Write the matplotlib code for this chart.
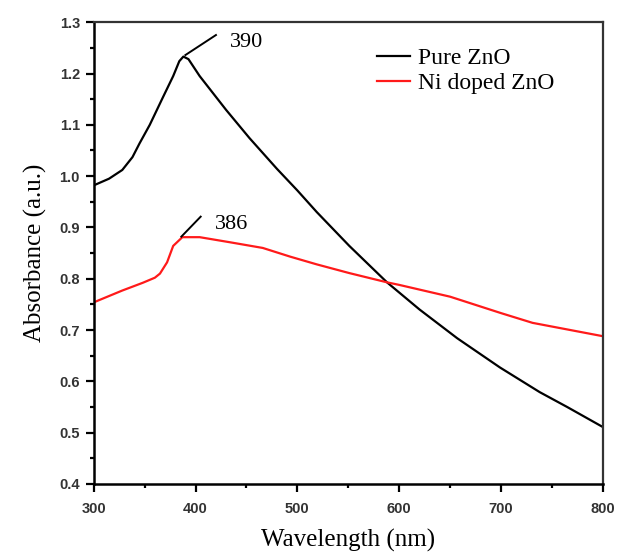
import matplotlib
matplotlib.use('Agg')
import matplotlib.pyplot as plt
from matplotlib.ticker import MultipleLocator

# wavelength (nm) / absorbance (a.u.)
pure_wl = [300, 315, 328, 338, 345, 355, 368, 378, 384, 388, 393, 404, 430, 453,
           480, 500, 519, 551, 588, 620, 657, 699, 738, 765, 800]
pure_abs = [0.982, 0.995, 1.012, 1.037, 1.064, 1.100, 1.154, 1.195, 1.224, 1.233,
            1.228, 1.195, 1.129, 1.074, 1.014, 0.972, 0.930, 0.864, 0.793, 0.740,
            0.684, 0.627, 0.579, 0.550, 0.511]

ni_wl = [300, 328, 348, 360, 365, 372, 378, 387, 404, 434, 466, 493, 519, 551,
         588, 600, 650, 700, 731, 800]
ni_abs = [0.754, 0.777, 0.792, 0.802, 0.810, 0.832, 0.864, 0.881, 0.881, 0.871,
          0.860, 0.843, 0.828, 0.811, 0.793, 0.788, 0.765, 0.733, 0.714, 0.688]

peaks = [(390, 1.236, '390', 420, 1.275), (386, 0.882, '386', 405, 0.921)]

serif = ['Liberation Serif', 'DejaVu Serif']

fig = plt.figure(figsize=(6.17, 5.55), dpi=100)
ax = fig.add_axes([0.152, 0.128, 0.825, 0.832])

ax.plot(pure_wl, pure_abs, color='black', lw=1.6, label='Pure ZnO')
ax.plot(ni_wl, ni_abs, color='#ff1a1a', lw=1.6, label='Ni doped ZnO')

for x0, y0, txt, x1, y1 in peaks:
    ax.plot([x0, x1], [y0, y1], color='black', lw=1.4)
    ax.text(x1 + 14, y1 - 0.015, txt, family=serif, fontsize=16, va='center', ha='left')

ax.set_xlim(300, 800)
ax.set_ylim(0.4, 1.3)
ax.xaxis.set_major_locator(MultipleLocator(100))
ax.xaxis.set_minor_locator(MultipleLocator(50))
ax.yaxis.set_major_locator(MultipleLocator(0.1))
ax.yaxis.set_minor_locator(MultipleLocator(0.05))

ax.tick_params(which='both', direction='out', top=False, right=False, width=1.6)
ax.tick_params(which='major', length=6)
ax.tick_params(which='minor', length=3)
ax.tick_params(axis='x', pad=7)
ax.tick_params(axis='y', pad=4)
for lbl in ax.get_xticklabels() + ax.get_yticklabels():
    lbl.set_fontfamily('Liberation Sans')
    lbl.set_fontweight('bold')
    lbl.set_fontsize(10.5)
    lbl.set_color('#333333')

for side in ['left', 'bottom']:
    ax.spines[side].set_linewidth(1.8)
for side in ['top', 'right']:
    ax.spines[side].set_linewidth(1.6)
    ax.spines[side].set_color('#333333')

ax.set_xlabel('Wavelength (nm)', family=serif, fontsize=18, labelpad=9)
ax.set_ylabel('Absorbance (a.u.)', family=serif, fontsize=18, labelpad=9)

ax.legend(loc='upper left', bbox_to_anchor=(0.556, 0.945), frameon=False,
          prop={'family': serif, 'size': 17}, handlelength=1.4,
          handletextpad=0.35, labelspacing=0.15, borderpad=0, borderaxespad=0)

fig.savefig('out.png', dpi=100)
